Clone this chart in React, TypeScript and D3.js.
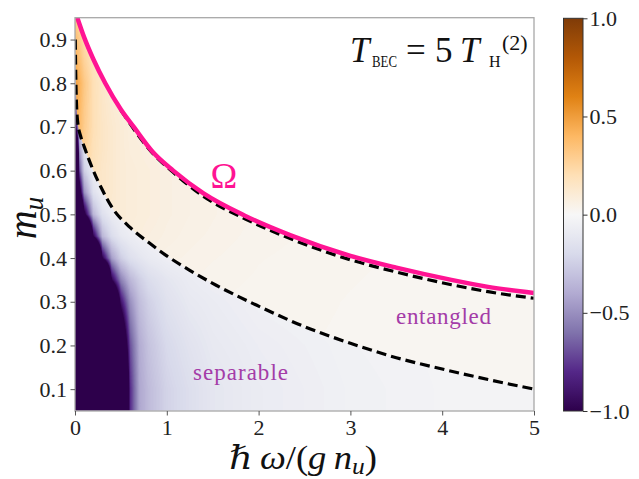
import React, { useRef, useEffect } from 'react';
import * as d3 from 'd3';

const FONT = "'Liberation Serif', 'DejaVu Serif', serif";

// grid the colour field is sampled on
const xCols = [0, 0.05, 0.1, 0.2, 0.3, 0.4, 0.5, 0.6, 0.7, 0.8, 1.0, 1.25, 1.5, 2, 3, 4, 5];
const yRows = [0.05, 0.1, 0.2, 0.3, 0.35, 0.4, 0.45, 0.5, 0.55, 0.6, 0.65, 0.7, 0.8, 0.9, 0.95];

// values below the lower dashed line (separable side), one row per yRows entry
const sepValues = [
  [-3, -3, -3, -3, -3, -3, -2.5, -0.8, -0.42, -0.33, -0.23, -0.17, -0.12, -0.08, -0.045, -0.03, -0.025],
  [-3, -3, -3, -3, -3, -3, -2.5, -0.8, -0.42, -0.33, -0.23, -0.17, -0.12, -0.08, -0.045, -0.03, -0.025],
  [-3, -3, -3, -3, -3, -3, -1.6, -0.7, -0.4, -0.3, -0.2, -0.14, -0.1, -0.07, -0.04, -0.028, -0.022],
  [-3, -3, -3, -3, -3, -2, -0.9, -0.5, -0.32, -0.24, -0.15, -0.1, -0.08, -0.05, -0.03, -0.022, -0.02],
  [-3, -3, -3, -3, -3, -1.0, -0.55, -0.35, -0.25, -0.18, -0.12, -0.08, -0.06, -0.04, -0.025, -0.02, -0.02],
  [-3, -3, -3, -3, -1.0, -0.45, -0.25, -0.16, -0.12, -0.09, -0.06, -0.045, -0.035, -0.03, -0.02, -0.02, -0.02],
  [-3, -3, -3, -1.0, -0.35, -0.18, -0.1, -0.07, -0.05, -0.04, -0.03, -0.025, -0.02, -0.02, -0.02, -0.02, -0.02],
  [-3, -2, -1.1, -0.35, -0.15, -0.08, -0.05, -0.035, -0.03, -0.025, -0.02, -0.02, -0.02, -0.02, -0.02, -0.02, -0.02],
  [-3, -1.2, -0.5, -0.15, -0.06, -0.035, -0.025, -0.02, -0.02, -0.02, -0.02, -0.02, -0.02, -0.02, -0.02, -0.02, -0.02],
  [-3, -0.7, -0.25, -0.08, -0.04, -0.025, -0.02, -0.02, -0.02, -0.02, -0.02, -0.02, -0.02, -0.02, -0.02, -0.02, -0.02],
  [-2.5, -0.45, -0.15, -0.05, -0.025, -0.02, -0.02, -0.02, -0.02, -0.02, -0.02, -0.02, -0.02, -0.02, -0.02, -0.02, -0.02],
  [-1.1, -0.25, -0.08, -0.03, -0.02, -0.02, -0.02, -0.02, -0.02, -0.02, -0.02, -0.02, -0.02, -0.02, -0.02, -0.02, -0.02],
  [-0.3, -0.05, -0.02, -0.02, -0.02, -0.02, -0.02, -0.02, -0.02, -0.02, -0.02, -0.02, -0.02, -0.02, -0.02, -0.02, -0.02],
  [-0.1, -0.02, -0.02, -0.02, -0.02, -0.02, -0.02, -0.02, -0.02, -0.02, -0.02, -0.02, -0.02, -0.02, -0.02, -0.02, -0.02],
  [-0.1, -0.02, -0.02, -0.02, -0.02, -0.02, -0.02, -0.02, -0.02, -0.02, -0.02, -0.02, -0.02, -0.02, -0.02, -0.02, -0.02],
];

// values above the lower dashed line (entangled side)
const entValues = [
  [0.04, 0.04, 0.04, 0.04, 0.04, 0.04, 0.04, 0.04, 0.04, 0.04, 0.035, 0.03, 0.028, 0.025, 0.022, 0.02, 0.02],
  [0.04, 0.04, 0.04, 0.04, 0.04, 0.04, 0.04, 0.04, 0.04, 0.04, 0.035, 0.03, 0.028, 0.025, 0.022, 0.02, 0.02],
  [0.05, 0.05, 0.05, 0.05, 0.05, 0.05, 0.05, 0.045, 0.04, 0.04, 0.035, 0.032, 0.03, 0.026, 0.022, 0.02, 0.02],
  [0.08, 0.08, 0.08, 0.08, 0.08, 0.08, 0.07, 0.06, 0.05, 0.045, 0.04, 0.035, 0.032, 0.028, 0.023, 0.02, 0.02],
  [0.1, 0.1, 0.1, 0.1, 0.09, 0.08, 0.075, 0.07, 0.06, 0.055, 0.045, 0.04, 0.035, 0.03, 0.024, 0.02, 0.02],
  [0.15, 0.14, 0.13, 0.12, 0.1, 0.09, 0.085, 0.08, 0.07, 0.06, 0.05, 0.045, 0.04, 0.032, 0.025, 0.021, 0.02],
  [0.2, 0.18, 0.16, 0.14, 0.12, 0.1, 0.09, 0.085, 0.08, 0.07, 0.06, 0.05, 0.045, 0.035, 0.026, 0.022, 0.02],
  [0.25, 0.22, 0.2, 0.16, 0.13, 0.11, 0.1, 0.09, 0.085, 0.08, 0.065, 0.055, 0.048, 0.038, 0.027, 0.022, 0.02],
  [0.3, 0.26, 0.22, 0.17, 0.14, 0.12, 0.1, 0.09, 0.085, 0.08, 0.065, 0.055, 0.048, 0.038, 0.027, 0.022, 0.02],
  [0.35, 0.3, 0.25, 0.18, 0.14, 0.12, 0.1, 0.09, 0.085, 0.08, 0.065, 0.055, 0.048, 0.038, 0.027, 0.022, 0.02],
  [0.4, 0.34, 0.28, 0.19, 0.15, 0.12, 0.1, 0.085, 0.08, 0.07, 0.06, 0.05, 0.045, 0.036, 0.026, 0.022, 0.02],
  [0.45, 0.38, 0.3, 0.2, 0.15, 0.12, 0.1, 0.08, 0.07, 0.06, 0.055, 0.05, 0.042, 0.035, 0.025, 0.022, 0.02],
  [0.5, 0.42, 0.32, 0.2, 0.14, 0.1, 0.08, 0.07, 0.06, 0.05, 0.045, 0.04, 0.035, 0.03, 0.025, 0.02, 0.02],
  [0.38, 0.3, 0.22, 0.15, 0.1, 0.08, 0.07, 0.06, 0.05, 0.05, 0.04, 0.035, 0.03, 0.025, 0.02, 0.02, 0.02],
  [0.3, 0.25, 0.2, 0.12, 0.08, 0.07, 0.06, 0.05, 0.05, 0.04, 0.04, 0.03, 0.03, 0.025, 0.02, 0.02, 0.02],
];

// Omega (magenta) curve
const omegaX = [0.025, 0.1, 0.2, 0.33, 0.5, 0.64, 0.85, 1.07, 1.4, 1.85, 2.35, 3.0, 3.5, 4.1, 4.5, 5.0];
const omegaY = [0.95, 0.905, 0.855, 0.8, 0.74, 0.7, 0.642, 0.6, 0.548, 0.497, 0.452, 0.405, 0.378, 0.35, 0.334, 0.32];

// upper dashed boundary (just under Omega)
const upperX = [0.5, 0.85, 1.07, 1.4, 1.85, 2.35, 3.0, 3.5, 4.1, 4.5, 5.0];
const upperY = [0.738, 0.639, 0.596, 0.541, 0.49, 0.444, 0.396, 0.368, 0.339, 0.323, 0.308];

// lower dashed boundary
const lowerX = [0.003, 0.008, 0.015, 0.03, 0.06, 0.1, 0.2, 0.3, 0.4, 0.6, 0.8, 1.0, 1.25, 1.5, 2.0, 2.5, 3.0, 3.5, 4.0, 4.5, 5.0];
const lowerY = [0.9, 0.82, 0.76, 0.71, 0.68, 0.655, 0.6, 0.555, 0.517, 0.47, 0.436, 0.405, 0.372, 0.342, 0.29, 0.243, 0.205, 0.172, 0.146, 0.122, 0.1];

const xTicks = [0, 1, 2, 3, 4, 5];
const yTicks = [0.1, 0.2, 0.3, 0.4, 0.5, 0.6, 0.7, 0.8, 0.9];
const cbarTicks = [1, 0.5, 0, -0.5, -1];

function sample(grid: number[][], x: number, y: number) {
  const i = Math.max(0, Math.min(xCols.length - 2, d3.bisectRight(xCols, x) - 1));
  const j = Math.max(0, Math.min(yRows.length - 2, d3.bisectRight(yRows, y) - 1));
  const tx = Math.max(0, Math.min(1, (x - xCols[i]) / (xCols[i + 1] - xCols[i])));
  const ty = Math.max(0, Math.min(1, (y - yRows[j]) / (yRows[j + 1] - yRows[j])));
  const a = grid[j][i], b = grid[j][i + 1], c = grid[j + 1][i], d = grid[j + 1][i + 1];
  return (a * (1 - tx) + b * tx) * (1 - ty) + (c * (1 - tx) + d * tx) * ty;
}

function App() {
  const svgRef = useRef<SVGSVGElement>(null);

  useEffect(() => {
    const svg = d3.select(svgRef.current);
    svg.selectAll('*').remove();

    const left = 75, right = 534, top = 17.7, bottom = 411;
    const x = d3.scaleLinear().domain([0, 5]).range([left, right]);
    const y = d3.scaleLinear().domain([0.05, 0.95]).range([bottom, top]);
    const pw = Math.round(right - left), ph = Math.round(bottom - top);

    // matplotlib-like PuOr: piecewise linear through the 11 brewer colours, brown = +1, purple = -1
    let puor = [...d3.schemePuOr[11]];
    if (d3.rgb(puor[0]).b > d3.rgb(puor[0]).r) puor = puor.reverse();
    const cmap = d3.piecewise(d3.interpolateRgb, puor);
    const colorOf = (v: number) => cmap((1 - Math.max(-1, Math.min(1, v))) / 2);
    const lut = d3.range(256).map(k => d3.rgb(cmap(k / 255)));
    const colorIndex = (v: number) => Math.round(((1 - Math.max(-1, Math.min(1, v))) / 2) * 255);

    const makeImage = (grid: number[][]) => {
      const canvas = document.createElement('canvas');
      canvas.width = pw;
      canvas.height = ph;
      const ctx = canvas.getContext('2d')!;
      const img = ctx.createImageData(pw, ph);
      for (let py = 0; py < ph; py++) {
        const yv = y.invert(top + py + 0.5);
        for (let px = 0; px < pw; px++) {
          const xv = x.invert(left + px + 0.5);
          const c = lut[colorIndex(sample(grid, xv, yv))];
          const o = (py * pw + px) * 4;
          img.data[o] = c.r; img.data[o + 1] = c.g; img.data[o + 2] = c.b; img.data[o + 3] = 255;
        }
      }
      ctx.putImageData(img, 0, 0);
      return canvas.toDataURL();
    };

    const line = d3.line<number[]>()
      .x(d => x(d[0]))
      .y(d => y(d[1]))
      .curve(d3.curveMonotoneX);

    const omegaPts = omegaX.map((v, i) => [v, omegaY[i]]);
    const upperPts = upperX.map((v, i) => [v, upperY[i]]);
    const lowerPts = lowerX.map((v, i) => [v, lowerY[i]]);

    const defs = svg.append('defs');
    defs.append('clipPath').attr('id', 'plotClip')
      .append('rect').attr('x', left).attr('y', top).attr('width', right - left).attr('height', bottom - top);
    defs.append('clipPath').attr('id', 'entClip')
      .append('path')
      .attr('d', line(lowerPts) + `L${x(5)},${top}L${x(0)},${top}L${x(0)},${y(lowerY[0])}Z`);

    const plot = svg.append('g').attr('clip-path', 'url(#plotClip)');

    plot.append('image')
      .attr('x', left).attr('y', top).attr('width', pw).attr('height', ph)
      .attr('preserveAspectRatio', 'none')
      .attr('href', makeImage(sepValues));
    plot.append('image')
      .attr('x', left).attr('y', top).attr('width', pw).attr('height', ph)
      .attr('preserveAspectRatio', 'none')
      .attr('clip-path', 'url(#entClip)')
      .attr('href', makeImage(entValues));

    // nothing is drawn above Omega
    plot.append('path')
      .attr('d', line(omegaPts) + `L${x(5) + 2},${y(omegaY[omegaY.length - 1])}L${x(5) + 2},${top - 2}L${x(omegaX[0])},${top - 2}Z`)
      .attr('fill', '#fff');

    plot.append('path').attr('d', line(lowerPts))
      .attr('fill', 'none').attr('stroke', '#000').attr('stroke-width', 3.2).attr('stroke-dasharray', '10,5');
    plot.append('path').attr('d', line(upperPts))
      .attr('fill', 'none').attr('stroke', '#000').attr('stroke-width', 3.2).attr('stroke-dasharray', '10,5');
    plot.append('path').attr('d', line(omegaPts))
      .attr('fill', 'none').attr('stroke', '#ff1493').attr('stroke-width', 4.5);

    // frame
    svg.append('rect')
      .attr('x', left).attr('y', top).attr('width', right - left).attr('height', bottom - top)
      .attr('fill', 'none').attr('stroke', '#a8a8a8').attr('stroke-width', 1.3);

    const axL = svg.append('g').attr('transform', `translate(${left},0)`)
      .call(d3.axisLeft(y).tickValues(yTicks).tickFormat(d3.format('.1f')).tickSize(4.5).tickPadding(3.5));
    const axB = svg.append('g').attr('transform', `translate(0,${bottom})`)
      .call(d3.axisBottom(x).tickValues(xTicks).tickFormat(d3.format('d')).tickSize(4.5).tickPadding(4));
    [axL, axB].forEach(ax => {
      ax.select('.domain').remove();
      ax.selectAll('line').attr('stroke', '#555').attr('stroke-width', 1);
      ax.selectAll('text').attr('font-family', FONT).attr('font-size', 22).attr('fill', '#222');
    });

    // colorbar
    const cbL = 563.5, cbW = 19.5;
    const yc = d3.scaleLinear().domain([-1, 1]).range([bottom, 18.3]);
    const grad = defs.append('linearGradient').attr('id', 'cbGrad')
      .attr('x1', 0).attr('y1', 0).attr('x2', 0).attr('y2', 1);
    d3.range(0, 1.0001, 0.05).forEach(t => {
      grad.append('stop').attr('offset', t).attr('stop-color', colorOf(1 - 2 * t));
    });
    svg.append('rect')
      .attr('x', cbL).attr('y', yc(1)).attr('width', cbW).attr('height', yc(-1) - yc(1))
      .attr('fill', 'url(#cbGrad)').attr('stroke', '#333').attr('stroke-width', 1);
    const axC = svg.append('g').attr('transform', `translate(${cbL + cbW},0)`)
      .call(d3.axisRight(yc).tickValues(cbarTicks).tickFormat(d3.format('.1f')).tickSize(4.5).tickPadding(2));
    axC.select('.domain').remove();
    axC.selectAll('line').attr('stroke', '#333');
    axC.selectAll('text').attr('font-family', FONT).attr('font-size', 22).attr('fill', '#222');

    // labels
    const txt = (tx: number, ty: number, s: string, size: number, opts: any = {}) =>
      svg.append('text').attr('x', tx).attr('y', ty).attr('font-family', FONT)
        .attr('font-size', size).attr('fill', opts.fill || '#111')
        .attr('font-style', opts.italic ? 'italic' : 'normal')
        .attr('text-anchor', opts.anchor || 'start')
        .text(s);

    // x label: hbar omega / (g n_u)
    const xl = svg.append('text').attr('x', 229).attr('y', 469)
      .attr('textLength', 148).attr('lengthAdjust', 'spacingAndGlyphs')
      .attr('font-family', FONT).attr('font-size', 33).attr('fill', '#111');
    xl.append('tspan').attr('font-style', 'italic').text('ℏ\u2009ω');
    xl.append('tspan').text('/(');
    xl.append('tspan').attr('font-style', 'italic').text('g\u2009n');
    xl.append('tspan').attr('font-style', 'italic').attr('font-size', 23).attr('dy', 5).text('u');
    xl.append('tspan').attr('dy', -5).text(')');

    // y label: m_u
    const yl = svg.append('text').attr('transform', 'translate(36,218) rotate(-90)')
      .attr('text-anchor', 'middle').attr('font-family', FONT).attr('font-size', 40).attr('fill', '#111');
    yl.append('tspan').attr('font-style', 'italic').text('m');
    yl.append('tspan').attr('font-style', 'italic').attr('font-size', 27).attr('dy', 7).text('u');

    // title: T_BEC = 5 T_H^(2)
    txt(350, 62, 'T', 35, { italic: true });
    txt(372, 67, 'BEC', 16).attr('textLength', 25).attr('lengthAdjust', 'spacingAndGlyphs');
    txt(406, 62, '=', 35);
    txt(435, 62, '5', 35);
    txt(460, 62, 'T', 35, { italic: true });
    txt(489, 67, 'H', 16);
    txt(502, 50, '(2)', 22);

    txt(224, 188, 'Ω', 36, { fill: '#ff1493', anchor: 'middle' });
    txt(396, 324, 'entangled', 23, { fill: '#a43ca8' }).attr('textLength', 95);
    txt(193, 380, 'separable', 23, { fill: '#a43ca8' }).attr('textLength', 95);
  }, []);

  return (
    <svg
      ref={svgRef}
      width={639}
      height={479}
      style={{ position: 'absolute', left: 0, top: 0, background: '#fff' }}
    />
  );
}

export default App;
